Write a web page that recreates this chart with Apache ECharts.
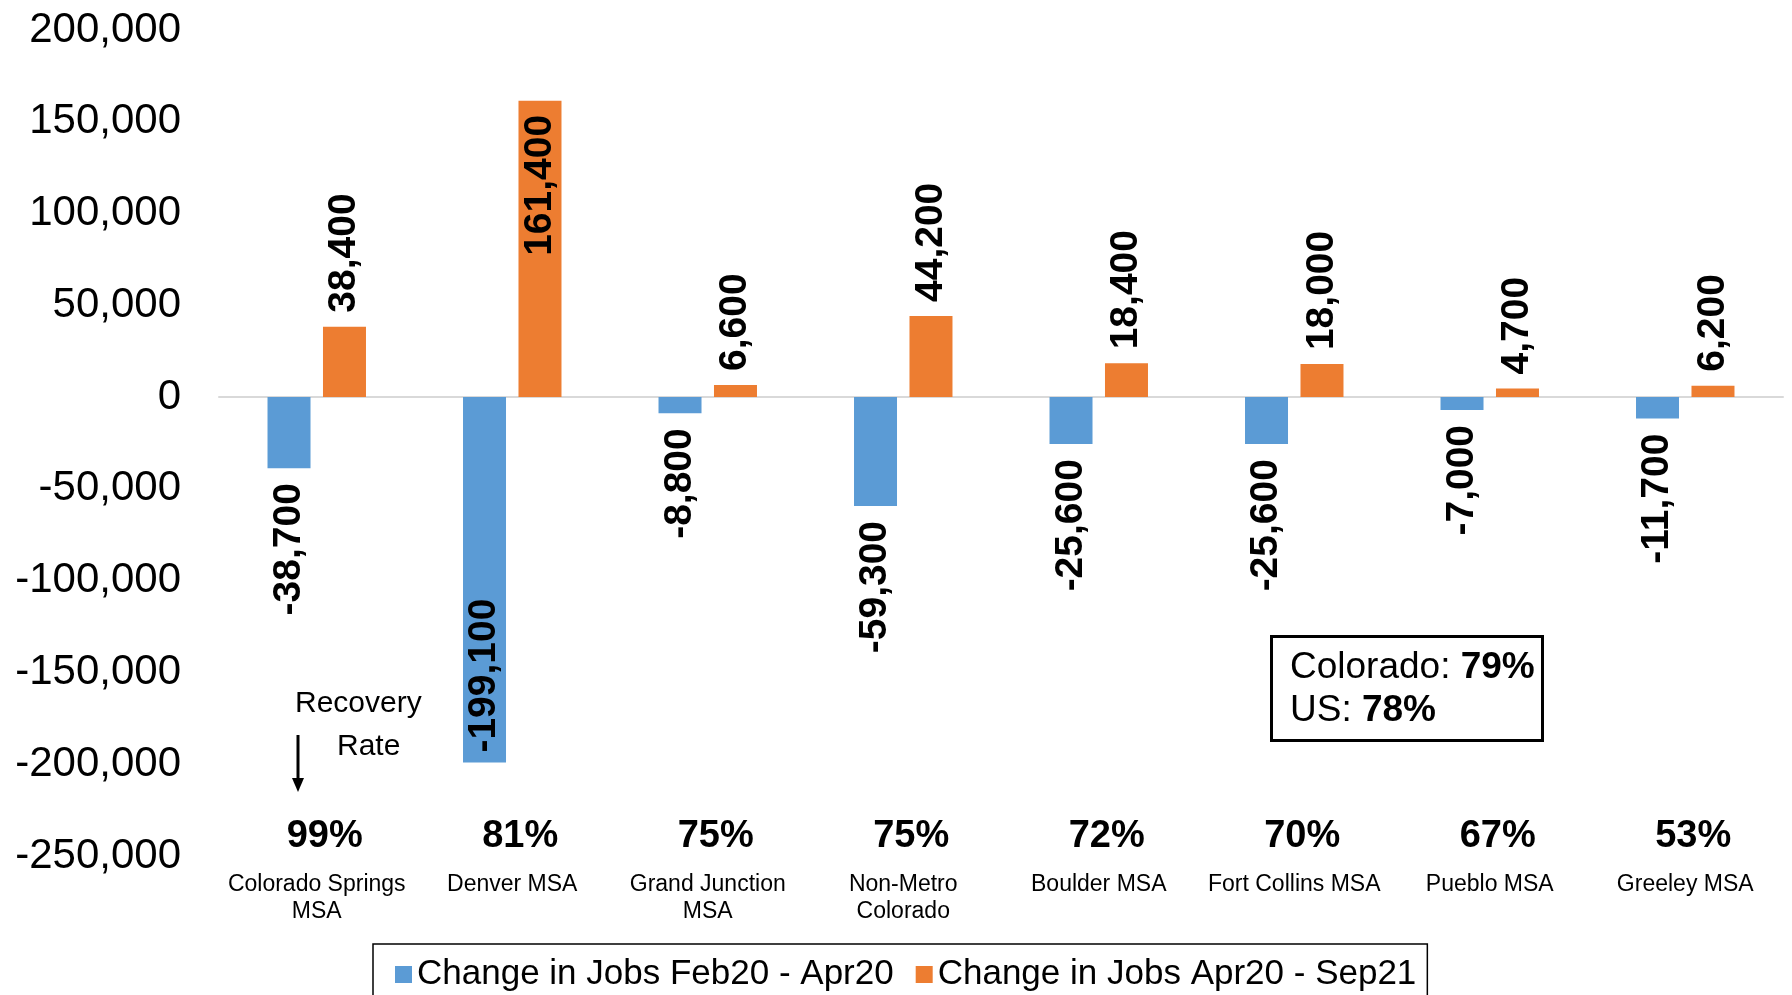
<!DOCTYPE html>
<html>
<head>
<meta charset="utf-8">
<script src="https://cdn.jsdelivr.net/npm/echarts@6/dist/echarts.min.js"></script>
<style>
  html, body { margin: 0; padding: 0; background: #fff; }
  #main { width: 1792px; height: 995px; }
</style>
</head>
<body>
<div id="main"></div>
<script>
var categories = [
  'Colorado Springs\nMSA',
  'Denver MSA',
  'Grand Junction\nMSA',
  'Non-Metro\nColorado',
  'Boulder MSA',
  'Fort Collins MSA',
  'Pueblo MSA',
  'Greeley MSA'
];
var lossJobs = [-38700, -199100, -8800, -59300, -25600, -25600, -7000, -11700];
var gainJobs = [38400, 161400, 6600, 44200, 18400, 18000, 4700, 6200];
var recoveryRates = [99, 81, 75, 75, 72, 70, 67, 53];
var coloradoRate = 79;
var usRate = 78;
var seriesNames = ['Change in Jobs Feb20 - Apr20', 'Change in Jobs Apr20 - Sep21'];

var FONT = '"Liberation Sans", Arial, sans-serif';

function fmt(v) {
  return echarts.format.addCommas(v);
}

var chartDom = document.getElementById('main');
var myChart = echarts.init(chartDom, null, { renderer: 'canvas' });

var labelBase = {
  show: true,
  rotate: 90,
  verticalAlign: 'middle',
  fontFamily: FONT,
  fontWeight: 'bold',
  fontSize: 39,
  color: '#000',
  formatter: function (p) { return fmt(p.value); }
};

// tall bars get their label inside, like the original
var lossData = lossJobs.map(function (v) {
  if (Math.abs(v) > 150000) {
    return { value: v, label: { position: 'insideBottom', align: 'left', distance: 10 } };
  }
  return v;
});
var gainData = gainJobs.map(function (v) {
  if (Math.abs(v) > 150000) {
    return { value: v, label: { position: 'insideTop', align: 'right', distance: 14 } };
  }
  return v;
});

var option = {
  animation: false,
  textStyle: { fontFamily: FONT },
  grid: { left: 219, right: 9, top: 30, bottom: 139, containLabel: false },
  legend: {
    data: seriesNames,
    left: 373,
    top: 944,
    padding: [13, 11, 14, 22],
    borderColor: '#000',
    borderWidth: 1.5,
    itemGap: 22,
    itemWidth: 17,
    itemHeight: 17,
    icon: 'rect',
    textStyle: { fontSize: 35, color: '#000', fontFamily: FONT }
  },
  title: {
    text: '{n|Colorado: }{b|' + coloradoRate + '%}\n{n|US: }{b|' + usRate + '%}',
    left: 1271,
    top: 633,
    padding: [13, 8, 12, 19],
    borderColor: '#000',
    borderWidth: 3,
    textStyle: {
      fontWeight: 'normal',
      rich: {
        n: { fontSize: 37, fontFamily: FONT, color: '#000', fontWeight: 'normal', lineHeight: 43 },
        b: { fontSize: 37, fontFamily: FONT, color: '#000', fontWeight: 'bold', lineHeight: 43 }
      }
    }
  },
  xAxis: [
    {
      type: 'category',
      data: categories,
      axisLine: { show: true, onZero: true, lineStyle: { color: '#d9d9d9', width: 2 } },
      axisTick: { show: false },
      axisLabel: { show: false }
    },
    {
      type: 'category',
      data: categories,
      position: 'bottom',
      axisLine: { show: false, onZero: false },
      axisTick: { show: false },
      axisLabel: {
        margin: -54,
        interval: 0,
        formatter: function (value, idx) {
          var lines = value.split('\n').map(function (s) { return '{c|' + s + '}'; });
          return '{p|' + recoveryRates[idx] + '%}\n' + lines.join('\n');
        },
        rich: {
          p: { fontSize: 38, fontWeight: 'bold', color: '#000', fontFamily: FONT, lineHeight: 69, padding: [0, 0, 0, 16] },
          c: { fontSize: 23, color: '#000', fontFamily: FONT, lineHeight: 27 }
        }
      }
    }
  ],
  yAxis: {
    type: 'value',
    min: -250000,
    max: 200000,
    interval: 50000,
    splitLine: { show: false },
    axisLine: { show: false },
    axisTick: { show: false },
    axisLabel: {
      margin: 38,
      fontSize: 42,
      color: '#000',
      fontFamily: FONT,
      formatter: function (v) { return fmt(v); }
    }
  },
  graphic: [
    {
      type: 'text',
      left: 295,
      top: 689,
      style: { text: 'Recovery', fontSize: 30, fontFamily: FONT, fill: '#000' }
    },
    {
      type: 'text',
      left: 337,
      top: 732,
      style: { text: 'Rate', fontSize: 30, fontFamily: FONT, fill: '#000' }
    },
    {
      type: 'line',
      shape: { x1: 298, y1: 735, x2: 298, y2: 780 },
      style: { stroke: '#000', lineWidth: 3 }
    },
    {
      type: 'polygon',
      shape: { points: [[292, 778], [304, 778], [298, 792]] },
      style: { fill: '#000' }
    }
  ],
  series: [
    {
      name: seriesNames[0],
      type: 'bar',
      xAxisIndex: 0,
      data: lossData,
      barWidth: 43,
      barGap: '29%',
      color: '#5b9bd5',
      label: Object.assign({}, labelBase, { position: 'bottom', align: 'right', distance: 15 })
    },
    {
      name: seriesNames[1],
      type: 'bar',
      xAxisIndex: 0,
      data: gainData,
      barWidth: 43,
      barGap: '29%',
      color: '#ed7d31',
      label: Object.assign({}, labelBase, { position: 'top', align: 'left', distance: 14 })
    }
  ]
};

option && myChart.setOption(option);
</script>
</body>
</html>
